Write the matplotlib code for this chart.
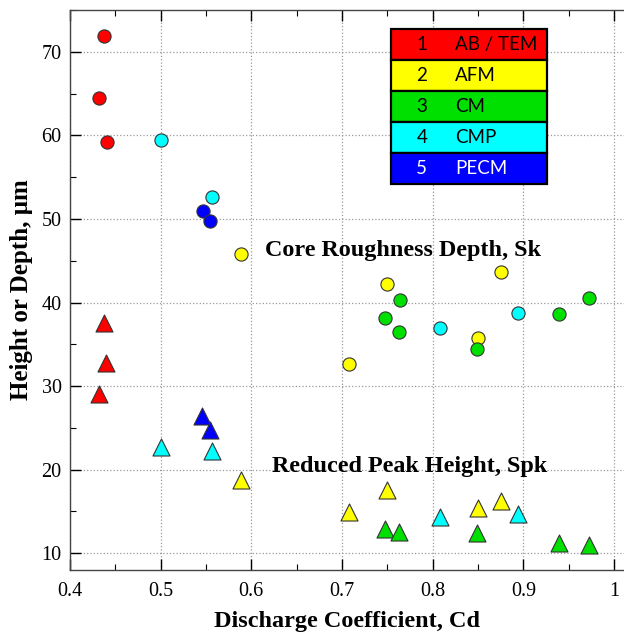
'''
Sk / Spk roughness versus discharge coefficient
'''

import matplotlib
matplotlib.use( 'Agg' )
import matplotlib.pyplot     as     plt
from   matplotlib.patches    import Rectangle
from   matplotlib.ticker     import MultipleLocator

# Method names and colours (1..5)
methods = [ 'AB / TEM', 'AFM', 'CM', 'CMP', 'PECM' ]
colors  = [ '#ff0000', '#ffff00', '#00e000', '#00ffff', '#0000ff' ]

# Core roughness depth, Sk (circles) -- one list per method
sk_cd = [
    [ 0.437, 0.432, 0.441 ],
    [ 0.589, 0.708, 0.750, 0.850, 0.875 ],
    [ 0.747, 0.764, 0.763, 0.849, 0.939, 0.972 ],
    [ 0.500, 0.557, 0.808, 0.894 ],
    [ 0.547, 0.554 ],
]
sk_val = [
    [ 71.9, 64.5, 59.2 ],
    [ 45.8, 32.7, 42.2, 35.8, 43.6 ],
    [ 38.2, 40.3, 36.5, 34.4, 38.6, 40.5 ],
    [ 59.4, 52.6, 37.0, 38.7 ],
    [ 50.9, 49.8 ],
]

# Reduced peak height, Spk (triangles)
spk_cd = [
    [ 0.437, 0.440, 0.432 ],
    [ 0.589, 0.708, 0.750, 0.850, 0.875 ],
    [ 0.747, 0.763, 0.849, 0.939, 0.972 ],
    [ 0.500, 0.557, 0.808, 0.894 ],
    [ 0.546, 0.554 ],
]
spk_val = [
    [ 37.5, 32.8, 29.1 ],
    [ 18.8, 14.9, 17.6, 15.4, 16.3 ],
    [ 12.9, 12.6, 12.4, 11.2, 11.0 ],
    [ 22.7, 22.2, 14.3, 14.7 ],
    [ 26.4, 24.7 ],
]

serif = 'Liberation Serif'

fig = plt.figure( figsize = ( 6.24, 6.36 ), dpi = 100 )
ax  = fig.add_axes( [ 0.1122, 0.1038, 0.8878, 0.8805 ] )

for i in range( len( methods ) ):
    ax.scatter( sk_cd[ i ], sk_val[ i ], s = 90, marker = 'o', color = colors[ i ],
                edgecolors = '#333333', linewidths = 0.8, zorder = 3 )
    ax.scatter( spk_cd[ i ], spk_val[ i ], s = 150, marker = '^', color = colors[ i ],
                edgecolors = '#333333', linewidths = 0.8, zorder = 3 )

# Annotations
ax.text( 0.615, 46.2, 'Core Roughness Depth, Sk', family = serif, weight = 'bold',
         fontsize = 17.4, ha = 'left', va = 'center' )
ax.text( 0.623, 20.4, 'Reduced Peak Height, Spk', family = serif, weight = 'bold',
         fontsize = 17.4, ha = 'left', va = 'center' )

# Coloured legend table
x0, x1 = 0.579, 0.861
top, row_h = 0.966, 0.0554
for i, name in enumerate( methods ):
    y = top - ( i + 1 ) * row_h
    ax.add_patch( Rectangle( ( x0, y ), x1 - x0, row_h, transform = ax.transAxes,
                             facecolor = colors[ i ], edgecolor = 'black', lw = 1.6,
                             zorder = 5 ) )
    tc = 'white' if i == 4 else 'black'
    ax.text( 0.635, y + row_h / 2, str( i + 1 ), transform = ax.transAxes, color = tc,
             family = 'Lato', fontsize = 13.5, ha = 'center', va = 'center', zorder = 6 )
    ax.text( 0.695, y + row_h / 2, name, transform = ax.transAxes, color = tc,
             family = 'Lato', fontsize = 13.5, ha = 'left', va = 'center', zorder = 6 )

# Axes limits and ticks
ax.set_xlim( 0.4, 1.011 )
ax.set_ylim( 8, 75 )
ax.xaxis.set_minor_locator( MultipleLocator( 0.05 ) )
ax.yaxis.set_minor_locator( MultipleLocator( 5 ) )
ax.set_xticks( [ 0.4, 0.5, 0.6, 0.7, 0.8, 0.9, 1.0 ] )
ax.set_xticklabels( [ '0.4', '0.5', '0.6', '0.7', '0.8', '0.9', '1' ] )
ax.set_yticks( [ 10, 20, 30, 40, 50, 60, 70 ] )

ax.tick_params( which = 'major', direction = 'in', length = 8, width = 1, top = True,
                labelsize = 14.5 )
ax.tick_params( axis = 'x', which = 'major', pad = 9 )
ax.tick_params( axis = 'y', which = 'major', pad = 6 )
ax.tick_params( which = 'minor', direction = 'in', length = 4, width = 0.8, top = True )
for lbl in ax.get_xticklabels() + ax.get_yticklabels():
    lbl.set_family( serif )

ax.spines[ 'right' ].set_visible( False )
for sp in [ 'left', 'bottom', 'top' ]:
    ax.spines[ sp ].set_linewidth( 1.0 )
    ax.spines[ sp ].set_color( '#444444' )

ax.grid( True, which = 'major', linestyle = ':', color = '#9a9a9a', linewidth = 0.9 )
ax.set_axisbelow( True )

ax.set_xlabel( 'Discharge Coefficient, Cd', family = serif, weight = 'bold',
               fontsize = 17.5, labelpad = 7 )
ax.set_ylabel( 'Height or Depth, \u03bcm', family = serif, weight = 'bold',
               fontsize = 18, labelpad = 6 )

fig.savefig( 'out.png', dpi = 100 )
